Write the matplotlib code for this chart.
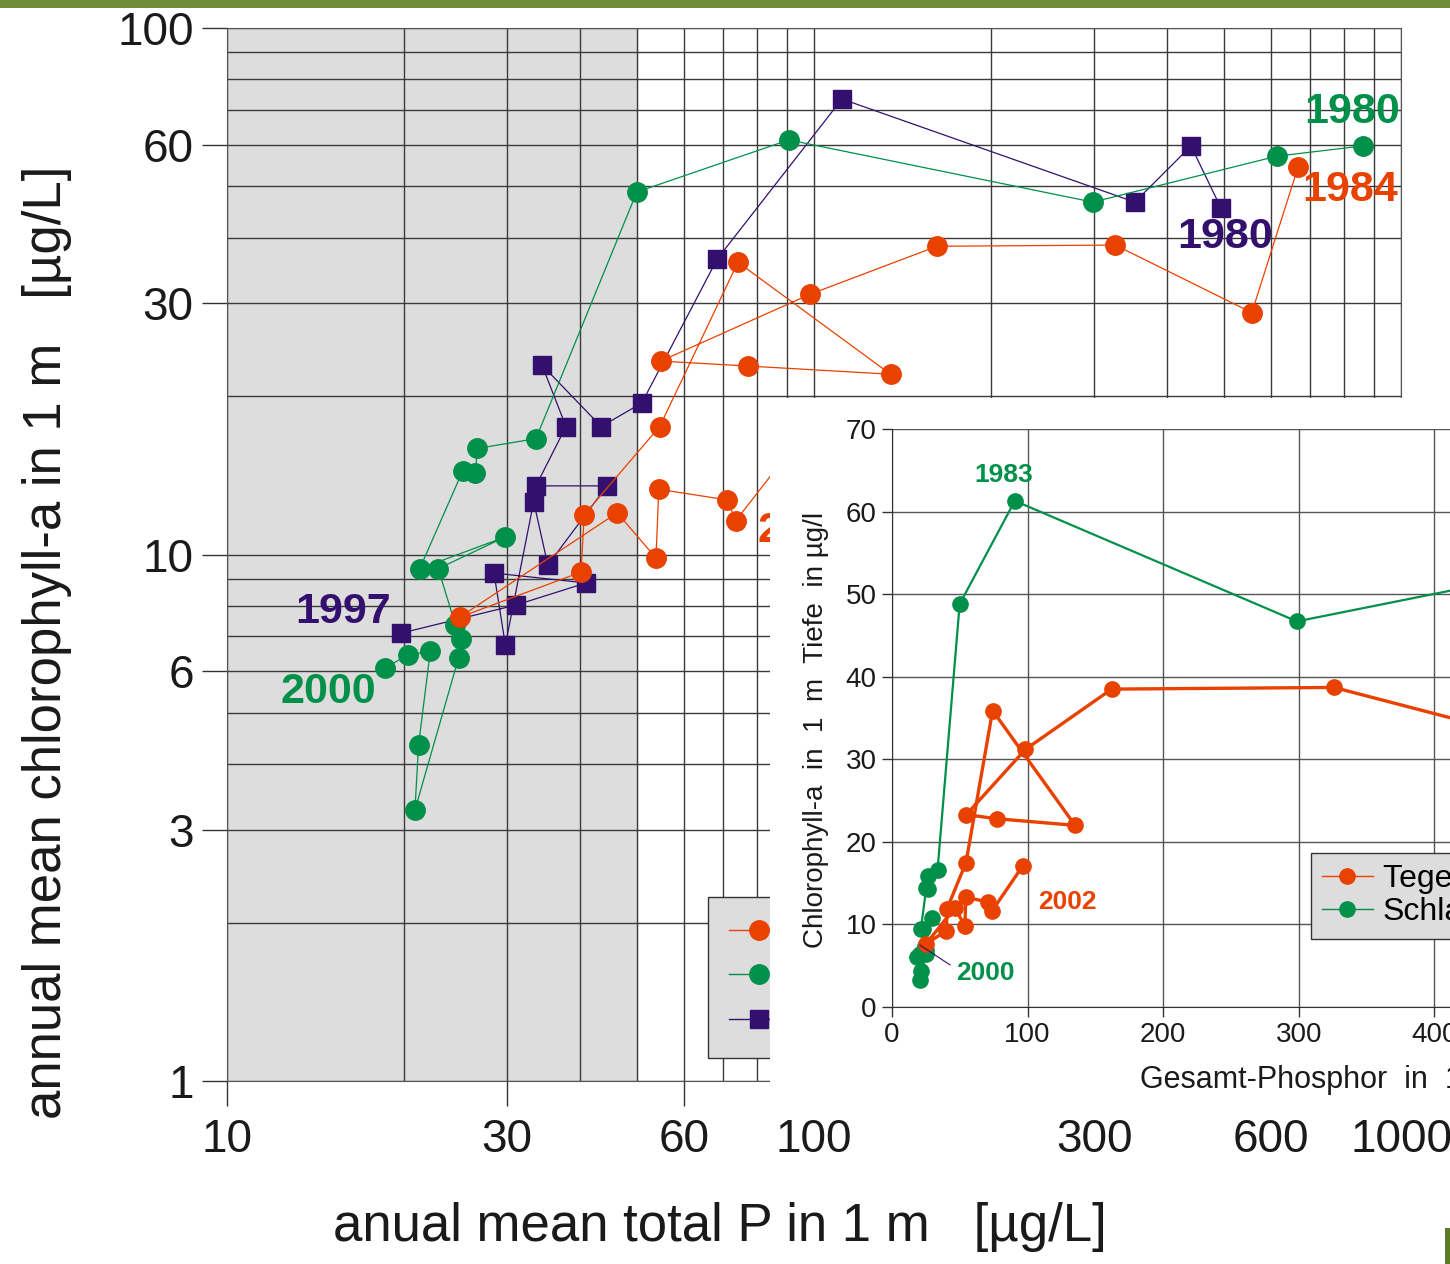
import matplotlib
matplotlib.use("Agg")
import matplotlib.pyplot as plt
from matplotlib.lines import Line2D
from matplotlib.patches import Rectangle
from matplotlib.ticker import NullFormatter

W, H = 1450, 1264
SANS = ["Liberation Sans", "DejaVu Sans"]

ORANGE = "#e94100"
GREEN = "#00904a"
PURPLE = "#33106e"

# Tegeler See, 1984 -> 2002 (total P, chlorophyll-a)
tegel_p = [668, 557, 326, 162, 98.4, 54.8, 77.2, 135, 74.2, 54.6, 40.6, 40.1,
           24.9, 46.2, 53.8, 54.4, 71.1, 73.6, 96.5]
tegel_chl = [54.5, 28.8, 38.7, 38.5, 31.2, 23.3, 22.8, 22.0, 35.9, 17.5, 11.9,
             9.26, 7.6, 12.0, 9.85, 13.3, 12.7, 11.6, 17.1]

# Schlachtensee, 1980 -> 2000
schl_p = [861, 615, 298.6, 90.6, 49.9, 33.6, 26.7, 26.5, 25.2, 21.3, 29.8,
          22.9, 24.5, 25.0, 24.8, 20.9, 21.2, 22.2, 20.3, 18.6]
schl_chl = [59.7, 57.1, 46.7, 61.3, 48.8, 16.6, 15.9, 14.3, 14.4, 9.4, 10.8,
            9.4, 7.35, 6.9, 6.36, 3.27, 4.35, 6.55, 6.44, 6.09]

# third lake, 1980 -> 1997
lake3_p = [493.5, 438.8, 352, 111.6, 68.4, 50.9, 43.4, 34.4, 37.8, 33.6, 44.4,
           35.2, 33.3, 29.8, 28.5, 40.9, 31.1, 19.8]
lake3_chl = [45.5, 59.7, 46.7, 73.3, 36.4, 19.4, 17.5, 22.9, 17.5, 13.5, 13.5,
             9.55, 12.6, 6.73, 9.22, 8.83, 8.02, 7.09]

main_xticks = [10, 30, 60, 100, 300, 600, 1000]
main_yticks = [1, 3, 6, 10, 30, 60, 100]


def px_box(x0, y0, x1, y1):
    return [x0 / W, 1 - y1 / H, (x1 - x0) / W, (y1 - y0) / H]


fig = plt.figure(figsize=(W / 100, H / 100), dpi=100)

# slide background remnants
fig.patches.append(Rectangle((0, 1 - 8 / H), 1, 8 / H, transform=fig.transFigure,
                             color="#6f8c3c", lw=0))
fig.patches.append(Rectangle((1445 / W, 0), 5 / W, 36 / H, transform=fig.transFigure,
                             color="#5b7a2a", lw=0))

# ---- main log-log chart
ax = fig.add_axes(px_box(227, 28, 1401, 1081))
ax.set_xscale("log")
ax.set_yscale("log")
ax.set_xlim(10, 1000)
ax.set_ylim(1, 100)
ax.axvspan(10, 50, color="#dddddd", zorder=0)
ax.grid(True, which="both", color="#3a3a3a", lw=1.0)
ax.set_axisbelow(True)

ax.set_xticks(main_xticks)
ax.set_xticklabels([str(v) for v in main_xticks])
ax.set_yticks(main_yticks)
ax.set_yticklabels([str(v) for v in main_yticks])
ax.xaxis.set_minor_formatter(NullFormatter())
ax.yaxis.set_minor_formatter(NullFormatter())
ax.tick_params(which="major", length=18, width=1, color="#333333", pad=6)
ax.tick_params(axis="x", which="major", pad=9)
ax.tick_params(which="minor", length=0)
for lab in ax.get_xticklabels() + ax.get_yticklabels():
    lab.set_family(SANS)
    lab.set_fontsize(33)
    lab.set_color("#1a1a1a")
for s in ax.spines.values():
    s.set_color("#555555")

ax.plot(lake3_p, lake3_chl, color=PURPLE, lw=0.9, marker="s", ms=13, zorder=3)
ax.plot(schl_p, schl_chl, color=GREEN, lw=0.9, marker="o", ms=14, zorder=4)
ax.plot(tegel_p, tegel_chl, color=ORANGE, lw=0.9, marker="o", ms=14, zorder=5)

bold = dict(family=SANS, fontweight="bold", fontsize=31, ha="center", va="center")
ax.text(825, 69.3, "1980", color=GREEN, **bold)
ax.text(818, 49.2, "1984", color=ORANGE, **bold)
ax.text(501, 40.1, "1980", color=PURPLE, **bold)
ax.text(15.76, 7.78, "1997", color=PURPLE, **bold)
ax.text(14.86, 5.48, "2000", color=GREEN, **bold)
ax.text(80, 11.1, "2002", color=ORANGE, family=SANS, fontweight="bold",
        fontsize=31, ha="left", va="center")

# legend: only its left part shows, the labels sit under the inset
handles = [
    Line2D([], [], color=ORANGE, lw=1, marker="o", ms=14),
    Line2D([], [], color=GREEN, lw=1, marker="o", ms=14),
    Line2D([], [], color=PURPLE, lw=1, marker="s", ms=13),
]
ax.legend(handles, ["", "", ""], loc="upper left", bbox_to_anchor=(0.4097, 0.1747),
          borderaxespad=0, facecolor="#dddddd", edgecolor="#333333",
          fancybox=False, framealpha=1, prop=dict(family=SANS, size=24),
          handlelength=1.8, labelspacing=0.4, borderpad=0.62, handletextpad=2.5)

# white panel behind the inset
cover = fig.add_axes(px_box(770, 398, 1450, 1108))
cover.set_xticks([])
cover.set_yticks([])
for s in cover.spines.values():
    s.set_visible(False)
cover.set_facecolor("white")

# ---- inset: linear chart
ax_in = fig.add_axes(px_box(892, 429, 1570, 1007))
ax_in.set_xlim(0, 500)
ax_in.set_ylim(0, 70)
ax_in.set_xticks(range(0, 501, 100))
ax_in.set_yticks(range(0, 71, 10))
ax_in.grid(True, color="#555555", lw=1.0)
ax_in.set_axisbelow(True)
ax_in.tick_params(length=7, width=1, color="#333333", pad=4)
for lab in ax_in.get_xticklabels() + ax_in.get_yticklabels():
    lab.set_family(SANS)
    lab.set_fontsize(20)
    lab.set_color("#1a1a1a")
ax_in.spines["top"].set_visible(False)
ax_in.spines["right"].set_visible(False)
ax_in.spines["left"].set_color("#333333")
ax_in.spines["bottom"].set_color("#333333")

ax_in.plot(schl_p, schl_chl, color=GREEN, lw=1.6, marker="o", ms=11, zorder=3)
ax_in.plot(tegel_p, tegel_chl, color=ORANGE, lw=2.4, marker="o", ms=11, zorder=4)
ax_in.plot([20.6, 42.8], [7.5, 5.1], color=PURPLE, lw=0.8, zorder=5)

small_bold = dict(family=SANS, fontweight="bold", fontsize=19, ha="center", va="center")
ax_in.text(82.5, 64.4, "1983", color=GREEN, **small_bold)
ax_in.text(129, 12.7, "2002", color=ORANGE, **small_bold)
ax_in.text(68.5, 4.1, "2000", color=GREEN, **small_bold)

in_handles = [
    Line2D([], [], color=ORANGE, lw=1, marker="o", ms=11, label="Tegeler See"),
    Line2D([], [], color=GREEN, lw=1, marker="o", ms=11, label="Schlachtensee"),
]
ax_in.legend(handles=in_handles, loc="upper left", bbox_to_anchor=(0.6175, 0.2664),
             borderaxespad=0, facecolor="#dddddd", edgecolor="#333333",
             fancybox=False, framealpha=1, prop=dict(family=SANS, size=23),
             handlelength=1.6, handletextpad=0.3, labelspacing=0.1, borderpad=0.35)

# axis titles
fig.text(47 / W, 1 - 642 / H, "annual mean chlorophyll-a in 1 m   [µg/L]",
         rotation=90, ha="center", va="center", fontsize=38, family=SANS, color="#1a1a1a")
fig.text(720 / W, 1 - 1227 / H, "anual mean total P in 1 m   [µg/L]",
         ha="center", va="center", fontsize=38, family=SANS, color="#1a1a1a")
fig.text(816 / W, 1 - 730 / H, "Chlorophyll-a  in  1  m  Tiefe  in µg/l",
         rotation=90, ha="center", va="center", fontsize=20, family=SANS, color="#1a1a1a")
fig.text(1140 / W, 1 - 1080 / H, "Gesamt-Phosphor  in  1 m Tiefe in µg/l",
         ha="left", va="center", fontsize=22, family=SANS, color="#1a1a1a")

fig.savefig("out.png", dpi=100)
